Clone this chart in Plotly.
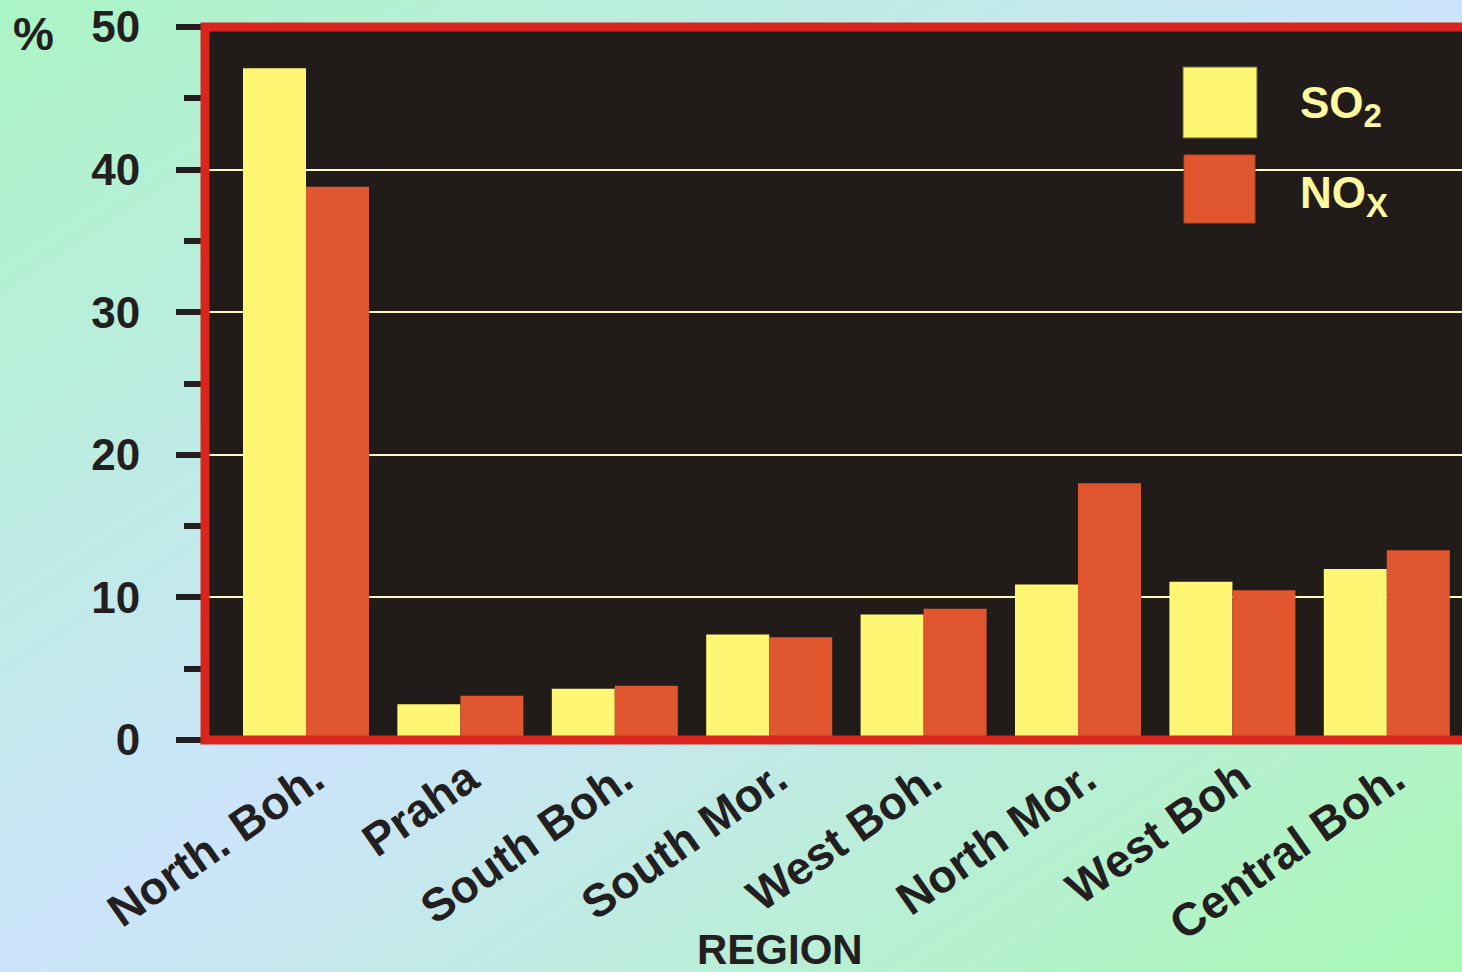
import base64
import plotly.graph_objects as go

# ---- data ----
regions = ["North. Boh.", "Praha", "South Boh.", "South Mor.", "West Boh.",
           "North Mor.", "West Boh", "Central Boh."]
so2 = [47.1, 2.5, 3.6, 7.4, 8.8, 10.9, 11.1, 12.0]
nox = [38.8, 3.1, 3.8, 7.2, 9.2, 18.0, 10.5, 13.3]
y_ticks = [0, 10, 20, 30, 40, 50]

W, H = 1462, 972
ML, MT, MB, MR = 205, 27, 232, 0
PW, PH = W - ML - MR, H - MT - MB

DARK = "#211c1a"
YELLOW = "#fff774"
ORANGE = "#e0562e"
RED = "#d9251d"
INK = "#231f20"
PALE = "#fff9a0"
FONT = "Liberation Sans, Arial, sans-serif"


def px_x(p):
    return (p - ML) / PW


def px_y(p):
    return (H - MB - p) / PH


fig = go.Figure()
fig.add_trace(go.Bar(name="SO2", x=regions, y=so2, marker=dict(color=YELLOW, line=dict(width=0))))
fig.add_trace(go.Bar(name="NOx", x=regions, y=nox, marker=dict(color=ORANGE, line=dict(width=0))))

# background gradient
svg = (f'<svg xmlns="http://www.w3.org/2000/svg" width="{W}" height="{H}" preserveAspectRatio="none">'
       '<defs><linearGradient id="g" x1="0" y1="0" x2="1" y2="1">'
       '<stop offset="0" stop-color="#abf5c4"/>'
       '<stop offset="0.5" stop-color="#cce4fb"/>'
       '<stop offset="1" stop-color="#a8f8b4"/>'
       '</linearGradient></defs>'
       f'<rect width="{W}" height="{H}" fill="url(#g)"/></svg>')
src = "data:image/svg+xml;base64," + base64.b64encode(svg.encode()).decode()

fig.update_layout(
    width=W, height=H, autosize=False,
    margin=dict(l=ML, r=MR, t=MT, b=MB, pad=0),
    paper_bgcolor="#c4ecec",
    plot_bgcolor=DARK,
    barmode="group", bargap=0.184, bargroupgap=0,
    showlegend=False,
    font=dict(family=FONT, color=INK),
    images=[dict(source=src, xref="paper", yref="paper",
                 x=px_x(0), y=px_y(0), sizex=W / PW, sizey=H / PH,
                 xanchor="left", yanchor="top", sizing="stretch", layer="below")],
)

cat_w = 154.4
fig.update_xaxes(
    type="category",
    range=[-(306 - ML) / cat_w, -(306 - ML) / cat_w + PW / cat_w],
    showgrid=False, zeroline=False, showline=False, ticks="",
    tickangle=-35, ticklabelstandoff=2, ticklabelshift=8,
    tickfont=dict(family=FONT, size=46, color=INK, weight="bold"),
)
fig.update_yaxes(
    range=[0, 50], tickvals=y_ticks, ticktext=[str(v) for v in y_ticks],
    showgrid=True, gridcolor="#fffbbd", gridwidth=2,
    zeroline=False, showline=False,
    ticks="outside", ticklen=28, tickwidth=6, tickcolor=INK,
    minor=dict(dtick=5, tick0=0, ticks="outside", ticklen=20, tickwidth=6,
               tickcolor=INK, showgrid=False),
    ticklabelstandoff=27,
    tickfont=dict(family=FONT, size=44, color=INK, weight="bold"),
)

shapes = [
    # dark plot background (below gridlines)
    dict(type="rect", xref="paper", yref="paper", x0=0, y0=0, x1=1.02, y1=1,
         line=dict(width=0), fillcolor=DARK, layer="below"),
    # frame
    dict(type="rect", xref="paper", yref="paper", x0=0, y0=0, x1=1.02, y1=1,
         line=dict(color=RED, width=9), fillcolor="rgba(0,0,0,0)", layer="above"),
    # legend swatches
    dict(type="rect", xref="paper", yref="paper",
         x0=px_x(1183), x1=px_x(1257), y0=px_y(138), y1=px_y(67),
         line=dict(color="#6b6630", width=1), fillcolor=YELLOW, layer="above"),
    dict(type="rect", xref="paper", yref="paper",
         x0=px_x(1184), x1=px_x(1255), y0=px_y(223), y1=px_y(155),
         line=dict(color="#b8441f", width=1), fillcolor=ORANGE, layer="above"),
]
fig.update_layout(shapes=shapes)

annotations = [
    dict(text="SO<sub><span style='font-size:33px'>2</span></sub>", xref="paper", yref="paper",
         x=px_x(1298), y=px_y(106),
         xanchor="left", yanchor="middle", showarrow=False,
         font=dict(family=FONT, size=44, color=PALE, weight="bold")),
    dict(text="NO<sub><span style='font-size:33px'>X</span></sub>", xref="paper", yref="paper",
         x=px_x(1298), y=px_y(196),
         xanchor="left", yanchor="middle", showarrow=False,
         font=dict(family=FONT, size=44, color=PALE, weight="bold")),
    dict(text="%", xref="paper", yref="paper", x=px_x(11), y=px_y(34),
         xanchor="left", yanchor="middle", showarrow=False,
         font=dict(family=FONT, size=46, color=INK, weight="bold")),
    dict(text="REGION", xref="paper", yref="paper", x=px_x(780), y=px_y(949),
         xanchor="center", yanchor="middle", showarrow=False,
         font=dict(family=FONT, size=42, color=INK, weight="bold")),
]
fig.update_layout(annotations=annotations)

fig.write_html("out.html", config={"displayModeBar": False})
